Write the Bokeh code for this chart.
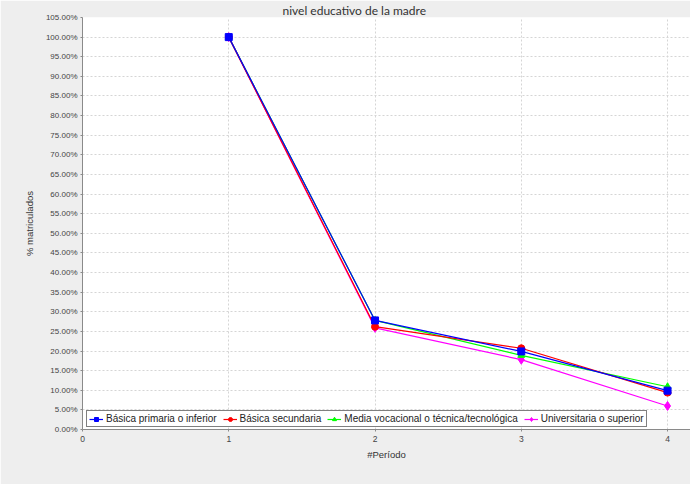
from bokeh.plotting import figure
from bokeh.models import (Range1d, FixedTicker, NumeralTickFormatter, Legend, LegendItem, Title)
from bokeh.embed import file_html
from bokeh.resources import INLINE

periods = [1, 2, 3, 4]
x_ticks = [0, 1, 2, 3, 4]
y_ticks = [0, 0.05, 0.10, 0.15, 0.20, 0.25, 0.30, 0.35, 0.40, 0.45, 0.50, 0.55,
           0.60, 0.65, 0.70, 0.75, 0.80, 0.85, 0.90, 0.95, 1.00, 1.05]

primaria = [1.00, 0.278, 0.199, 0.099]
secundaria = [1.00, 0.262, 0.207, 0.094]
media = [1.00, 0.278, 0.189, 0.109]
universitaria = [1.00, 0.259, 0.178, 0.060]

names = ["Básica primaria o inferior", "Básica secundaria",
         "Media vocacional o técnica/tecnológica", "Universitaria o superior"]
title_text = "nivel educativo de la madre"

FONT = "Liberation Sans"

p = figure(frame_width=608, frame_height=412, output_backend="svg", toolbar_location=None,
           x_range=Range1d(0, 4.157), y_range=Range1d(0, 1.05),
           min_border_left=82, min_border_right=0, min_border_top=17, min_border_bottom=55)
p.border_fill_color = "#eeeeee"
p.background_fill_color = "white"
p.outline_line_color = None

# axes
for ax in (p.xaxis[0], p.yaxis[0]):
    ax.axis_line_color = "#8a8a8a"
    ax.major_tick_line_color = "#8a8a8a"
    ax.major_tick_out = 2
    ax.major_tick_in = 0
    ax.minor_tick_line_color = None
    ax.major_label_text_font = FONT
    ax.major_label_text_color = "#444444"
    ax.axis_label_text_font = FONT
    ax.axis_label_text_font_style = "normal"
    ax.axis_label_text_color = "#333333"

p.xaxis.ticker = FixedTicker(ticks=x_ticks)
p.yaxis.ticker = FixedTicker(ticks=y_ticks)
p.yaxis.formatter = NumeralTickFormatter(format="0.00%")
p.xaxis.major_label_text_font_size = "8.5px"
p.yaxis.major_label_text_font_size = "8px"
p.xaxis.axis_label = "#Período"
p.yaxis.axis_label = "% matriculados"
p.xaxis.axis_label_text_font_size = "9.5px"
p.yaxis.axis_label_text_font_size = "9.5px"
p.xaxis.major_label_standoff = 4
p.yaxis.major_label_standoff = 3
p.xaxis.axis_label_standoff = 4
p.yaxis.axis_label_standoff = 8

for g in (p.xgrid[0], p.ygrid[0]):
    g.grid_line_color = "#d5d5d5"
    g.grid_line_dash = "2 2"
    g.grid_line_width = 1

series = [
    (universitaria, "#ff00ff", "diamond", 9, names[3]),
    (media, "#00ff00", "triangle", 7, names[2]),
    (secundaria, "#ff0000", "circle", 7, names[1]),
    (primaria, "#0000ff", "square", 7, names[0]),
]
items = {}
for vals, col, mk, sz, nm in series:
    l = p.line(periods, vals, line_color=col, line_width=1.2)
    s = p.scatter(periods, vals, marker=mk, size=sz, fill_color=col, line_color=col)
    items[nm] = LegendItem(label=nm, renderers=[l, s])

legend = Legend(items=[items[n] for n in names], orientation="horizontal",
                location=(4, 2), border_line_color="black", border_line_width=1,
                background_fill_color="white", background_fill_alpha=1,
                label_text_font=FONT, label_text_font_size="10px",
                label_text_color="#222222",
                glyph_width=14, glyph_height=10, label_standoff=3, spacing=6,
                padding=2, margin=0, label_height=10)
p.add_layout(legend)

title = Title(text=title_text, align="left", offset=200, standoff=0,
              text_font="Lato", text_font_size="12px", text_font_style="normal",
              text_color="#333333")
p.add_layout(title, "above")

open("out.html", "w").write(file_html(p, INLINE))
